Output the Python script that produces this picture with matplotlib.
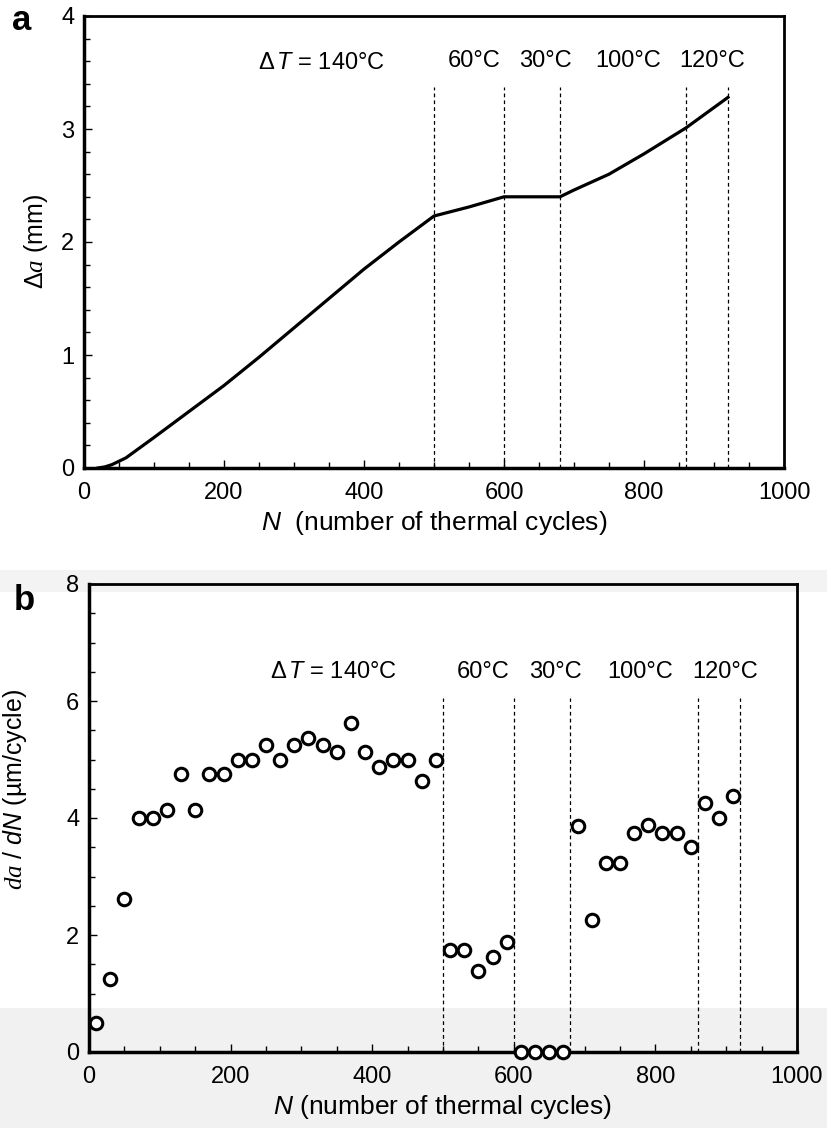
import numpy as np
import matplotlib.pyplot as plt
from matplotlib.patches import Rectangle
from matplotlib.ticker import MultipleLocator

plt.rcParams['font.family'] = ['Liberation Sans', 'DejaVu Sans']
plt.rcParams['mathtext.fontset'] = 'custom'
plt.rcParams['mathtext.rm'] = 'Liberation Sans'
plt.rcParams['mathtext.it'] = 'Liberation Serif:italic'
plt.rcParams['mathtext.sf'] = 'Liberation Sans:italic'

# (a) crack extension vs number of cycles
n_a = [20, 30, 40, 60, 80, 100, 150, 200, 250, 300, 350, 400, 450, 500,
       550, 600, 680, 700, 750, 800, 860, 920]
da_mm = [0.0, 0.01, 0.03, 0.09, 0.18, 0.27, 0.50, 0.73, 0.98, 1.24, 1.50,
         1.76, 2.00, 2.23, 2.31, 2.40, 2.40, 2.46, 2.60, 2.78, 3.01, 3.28]

# (b) crack growth rate
n_b = [10, 30, 50, 70, 90, 110, 130, 150, 170, 190, 210, 230, 250, 270, 290,
       310, 330, 350, 370, 390, 410, 430, 450, 470, 490,
       510, 530, 550, 570, 590,
       610, 630, 650, 670,
       690, 710, 730, 750, 770, 790, 810, 830, 850, 870, 890, 910]
rate = [0.5, 1.25, 2.62, 4.0, 4.0, 4.13, 4.75, 4.13, 4.75, 4.75, 5.0, 5.0, 5.25,
        5.0, 5.25, 5.37, 5.25, 5.13, 5.63, 5.13, 4.87, 5.0, 5.0, 4.63, 5.0,
        1.75, 1.75, 1.38, 1.63, 1.88,
        0.0, 0.0, 0.0, 0.0,
        3.87, 2.25, 3.23, 3.23, 3.75, 3.88, 3.75, 3.75, 3.5, 4.26, 4.0, 4.37]

# temperature block boundaries and labels
boundaries = [500, 600, 680, 860, 920]
block_labels = ['60°C', '30°C', '100°C', '120°C']
block_label_x = [557, 659, 778, 898]
first_label = r'$\mathit{\Delta}\,\mathsf{T}$ = 140°C'

W, H = 828, 1128
fig = plt.figure(figsize=(W / 100, H / 100), dpi=100)

# faint grey scan bands
fig.patches.append(Rectangle((0, 0), 1, 1 - 1008 / H, transform=fig.transFigure,
                             facecolor='#f1f1f1', edgecolor='none', zorder=-5))
fig.patches.append(Rectangle((0, 1 - 592 / H), 1, 22 / H, transform=fig.transFigure,
                             facecolor='#f3f3f3', edgecolor='none', zorder=-5))

ax_a = fig.add_axes([84 / W, 1 - 468 / H, (784 - 84) / W, (468 - 16) / H])
ax_b = fig.add_axes([89 / W, 1 - 1052 / H, (797 - 89) / W, (1052 - 584) / H])


def style_axes(ax):
    ax.set_facecolor('none')
    for side in ['top', 'right']:
        ax.spines[side].set_linewidth(2.0)
    for side in ['left', 'bottom']:
        ax.spines[side].set_linewidth(2.5)
    ax.tick_params(which='both', direction='in', top=False, right=False,
                   labelsize=17, width=1.0)
    ax.tick_params(axis='x', pad=10)
    ax.tick_params(axis='y', pad=7)
    ax.tick_params(which='major', length=6)
    ax.tick_params(which='minor', length=4)
    ax.xaxis.set_major_locator(MultipleLocator(200))
    ax.xaxis.set_minor_locator(MultipleLocator(50))
    ax.set_xlim(0, 1000)


# panel a
style_axes(ax_a)
ax_a.plot(n_a, da_mm, color='black', lw=2.3, zorder=3)
for b in boundaries:
    ax_a.plot([b, b], [0, 3.37], color='black', lw=0.9, ls=(0, (3, 2.5)))
ax_a.set_ylim(0, 4)
ax_a.yaxis.set_major_locator(MultipleLocator(1))
ax_a.yaxis.set_minor_locator(MultipleLocator(0.2))
ax_a.text(340, 3.58, first_label, fontsize=17, ha='center', va='center')
for lx, lab in zip(block_label_x, block_labels):
    ax_a.text(lx, 3.6, lab, fontsize=17, ha='center', va='center')
ax_a.set_xlabel(r'$\mathsf{N}$  (number of thermal cycles)', fontsize=19, labelpad=4)
ax_a.set_ylabel(r'$\mathit{\Delta a}$ (mm)', fontsize=18, labelpad=8)
fig.text(22 / W, 1 - 20 / H, 'a', fontsize=25, fontweight='bold', ha='center', va='center')

# panel b
style_axes(ax_b)
ax_b.plot(n_b, rate, ls='none', marker='o', ms=9, mfc='white', mec='black',
          mew=2.2, zorder=3, clip_on=False)
for b in boundaries:
    ax_b.plot([b, b], [0, 6.05], color='black', lw=0.9, ls=(0, (3, 2.5)))
ax_b.set_ylim(0, 8)
ax_b.yaxis.set_major_locator(MultipleLocator(2))
ax_b.yaxis.set_minor_locator(MultipleLocator(0.5))
ax_b.text(345, 6.49, first_label, fontsize=17, ha='center', va='center')
for lx, lab in zip(block_label_x, block_labels):
    ax_b.text(lx, 6.5, lab, fontsize=17, ha='center', va='center')
ax_b.set_xlabel(r'$\mathsf{N}$ (number of thermal cycles)', fontsize=19, labelpad=4)
ax_b.set_ylabel(r'$\mathit{da}$ / $\mathsf{dN}$ (µm/cycle)', fontsize=18)
ax_b.yaxis.set_label_coords(-0.085, 0.56)
fig.text(24 / W, 1 - 600 / H, 'b', fontsize=25, fontweight='bold', ha='center', va='center')

fig.savefig('out.png', dpi=100)
